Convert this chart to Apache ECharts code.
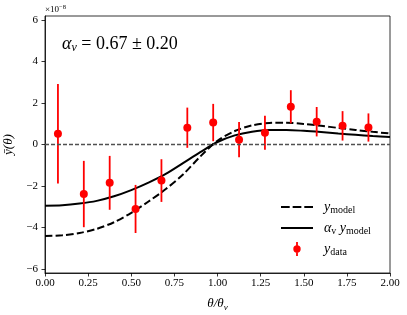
<!DOCTYPE html>
<html><head><meta charset="utf-8">
<script src="https://cdn.jsdelivr.net/npm/echarts@6/dist/echarts.min.js"></script>
<style>html,body{margin:0;padding:0;background:#fff}#c{width:407px;height:315px}</style>
</head><body><div id="c"></div>
<script>
// ---- data (units of 1e-8) ----
const dataX   = [0.075, 0.225, 0.375, 0.525, 0.675, 0.825, 0.975, 1.125, 1.275, 1.425, 1.575, 1.725, 1.875];
const dataY   = [0.52, -2.39, -1.85, -3.11, -1.74, 0.81, 1.06, 0.23, 0.57, 1.82, 1.10, 0.90, 0.82];
const dataErr = [2.40, 1.60, 1.30, 1.16, 1.03, 0.97, 0.90, 0.85, 0.82, 0.80, 0.71, 0.71, 0.68];

const modelX  = [0, 0.1, 0.2, 0.3, 0.4, 0.5, 0.6, 0.7, 0.8, 0.9, 1.0, 1.1, 1.2, 1.3, 1.4, 1.5, 1.6, 1.7, 1.8, 1.9, 2.0];
const modelY  = [-4.42, -4.38, -4.27, -4.07, -3.75, -3.30, -2.75, -2.15, -1.45, -0.58, 0.18, 0.65, 0.92, 1.04, 1.05, 0.99, 0.90, 0.80, 0.70, 0.61, 0.53];
const scaledY = [-2.95, -2.93, -2.85, -2.72, -2.50, -2.20, -1.84, -1.42, -0.90, -0.37, 0.12, 0.44, 0.62, 0.70, 0.70, 0.66, 0.60, 0.53, 0.47, 0.41, 0.36];

const xTicks = [0, 0.25, 0.5, 0.75, 1.0, 1.25, 1.5, 1.75, 2.0];
const yTicks = [-6, -4, -2, 0, 2, 4, 6];

const FONT = "'Liberation Serif', 'DejaVu Serif', serif";
const chart = echarts.init(document.getElementById('c'), null, {renderer: 'canvas'});

const dashIcon  = 'path://M0,0L0,0M32,14L32,14M0,6h8.7v2h-8.7zM11.65,6h8.7v2h-8.7zM23.3,6h8.7v2h-8.7z';
const solidIcon = 'path://M0,0L0,0M32,14L32,14M0,6h32v2h-32z';
const dataIcon  = 'path://M0,0L0,0M32,14L32,14M15.1,0h1.8v14h-1.8zM12.3,7a3.7,3.7 0 1,1 7.4,0a3.7,3.7 0 1,1 -7.4,0z';

const legendRich = {
  i: {fontFamily: FONT, fontStyle: 'italic', fontSize: 14, lineHeight: 16, color: '#000'},
  s: {fontFamily: FONT, fontSize: 10, lineHeight: 10, verticalAlign: 'bottom', color: '#000'},
  g: {fontFamily: FONT, fontStyle: 'italic', fontSize: 14, lineHeight: 16, color: '#000'}
};
const legendNames = {
  'ymodel': '{i|y}{s|model}',
  'alpha':  '{g|α}{s|v} {i|y}{s|model}',
  'ydata':  '{i|y}{s|data}'
};

const option = {
  animation: false,
  backgroundColor: '#fff',
  grid: {left: 45, right: 17, top: 16, bottom: 42, containLabel: false, outerBoundsMode: 'none',
    show: true, borderColor: '#000', borderWidth: 0.8, backgroundColor: 'transparent'},
  xAxis: {
    type: 'value', min: xTicks[0], max: xTicks[xTicks.length - 1], interval: 0.25,
    axisLine: {show: true, onZero: false, lineStyle: {color: '#000', width: 0.8}},
    axisTick: {show: true, inside: false, length: 3.5, lineStyle: {color: '#000', width: 0.8}},
    splitLine: {show: false},
    axisLabel: {color: '#000', fontFamily: FONT, fontSize: 11, margin: 5, formatter: v => v.toFixed(2)},
    name: '{a|θ/θ}{b|v}', nameLocation: 'middle', nameGap: 23,
    nameTextStyle: {rich: {
      a: {fontFamily: FONT, fontStyle: 'italic', fontSize: 13, lineHeight: 16, color: '#000'},
      b: {fontFamily: FONT, fontStyle: 'italic', fontSize: 9, lineHeight: 9, verticalAlign: 'bottom', color: '#000'}
    }}
  },
  yAxis: {
    type: 'value', min: -6.2, max: 6.2,
    axisLine: {show: true, onZero: false, lineStyle: {color: '#000', width: 0.8}},
    axisTick: {show: true, inside: false, length: 3.5, customValues: yTicks, lineStyle: {color: '#000', width: 0.8}},
    splitLine: {show: false},
    axisLabel: {color: '#000', fontFamily: FONT, fontSize: 11, margin: 7, customValues: yTicks,
      formatter: v => (v < 0 ? '\u2212' + Math.abs(v) : String(v))},
    name: 'ȳ(θ)', nameLocation: 'middle', nameGap: 23, nameRotate: 90,
    nameTextStyle: {fontFamily: FONT, fontStyle: 'italic', fontSize: 13, color: '#000'}
  },
  legend: {
    orient: 'vertical', left: 276, top: 195, itemWidth: 32, itemHeight: 14, itemGap: 6,
    textStyle: {rich: legendRich, padding: [0, 0, 0, 6]},
    formatter: n => legendNames[n],
    selectedMode: false,
    data: [
      {name: 'ymodel', icon: dashIcon, itemStyle: {color: '#000', borderWidth: 0, opacity: 1}},
      {name: 'alpha', icon: solidIcon, itemStyle: {color: '#000', borderWidth: 0, opacity: 1}},
      {name: 'ydata', icon: dataIcon, itemStyle: {color: '#ff0000', borderWidth: 0, opacity: 1}}
    ]
  },
  graphic: [
    {type: 'text', left: 45, top: 4, style: {
      text: '{a|×10}{b|\u22128}', rich: {
        a: {fontFamily: FONT, fontSize: 9, lineHeight: 11, fill: '#000'},
        b: {fontFamily: FONT, fontSize: 6.5, lineHeight: 11, verticalAlign: 'top', fill: '#000'}
      }}},
    {type: 'text', left: 62, top: 35, style: {
      text: '{g|α}{s|v}{t| = 0.67 ± 0.20}', rich: {
        g: {fontFamily: FONT, fontStyle: 'italic', fontSize: 18, lineHeight: 20, fill: '#000'},
        s: {fontFamily: FONT, fontStyle: 'italic', fontSize: 12, lineHeight: 12, verticalAlign: 'bottom', fill: '#000'},
        t: {fontFamily: FONT, fontSize: 18, lineHeight: 20, fill: '#000'}
      }}}
  ],
  series: [
    {
      name: 'ymodel', type: 'line', smooth: 0.3, showSymbol: false, symbol: 'none', z: 3,
      data: modelX.map((x, i) => [x, modelY[i]]),
      lineStyle: {color: '#000', width: 2, type: [7.4, 3.2]},
      itemStyle: {color: '#000'},
      markLine: {silent: true, symbol: ['none', 'none'], label: {show: false},
        lineStyle: {color: '#505050', width: 1.3, type: [4, 2]}, data: [{yAxis: 0}]}
    },
    {
      name: 'alpha', type: 'line', smooth: 0.3, showSymbol: false, symbol: 'none', z: 3,
      data: modelX.map((x, i) => [x, scaledY[i]]),
      lineStyle: {color: '#000', width: 2},
      itemStyle: {color: '#000'}
    },
    {
      name: 'ydata', type: 'custom', z: 4,
      data: dataX.map((x, i) => [x, dataY[i], dataErr[i]]),
      encode: {x: 0, y: 1},
      renderItem: (params, api) => {
        const x = api.value(0), y = api.value(1), e = api.value(2);
        const p1 = api.coord([x, y - e]), p2 = api.coord([x, y + e]);
        return {type: 'line', shape: {x1: p1[0], y1: p1[1], x2: p2[0], y2: p2[1]},
          style: {stroke: '#ff0000', lineWidth: 1.8, opacity: 1}};
      },
      itemStyle: {color: '#ff0000', opacity: 1}
    },
    {
      name: 'ydata', type: 'scatter', z: 5, symbolSize: 8,
      data: dataX.map((x, i) => [x, dataY[i]]),
      itemStyle: {color: '#ff0000', opacity: 1}
    }
  ]
};
chart.setOption(option);
</script></body></html>
